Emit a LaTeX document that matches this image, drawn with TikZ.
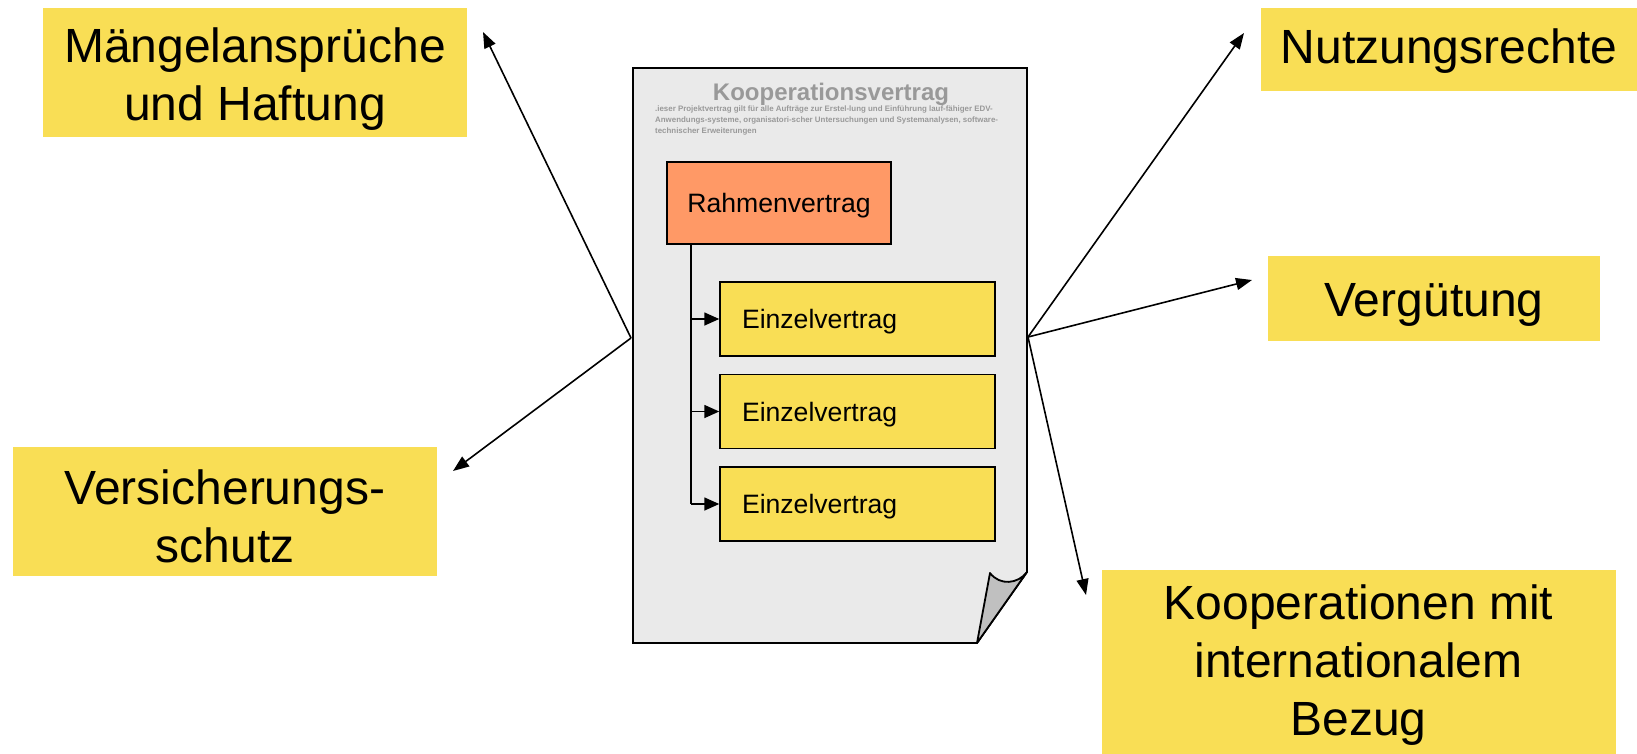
\documentclass[tikz,border=0pt]{standalone}
\usepackage{fontspec}
\setmainfont{Liberation Sans}
\usetikzlibrary{arrows.meta}

\definecolor{topicyellow}{HTML}{F9DE55}
\definecolor{frameorange}{HTML}{FF9966}
\definecolor{sheetgray}{HTML}{EAEAEA}
\definecolor{foldgray}{HTML}{C0C0C0}
\definecolor{headgray}{HTML}{999999}

\begin{document}
\begin{tikzpicture}[x=1pt,y=-1pt,
  topic/.style={fill=topicyellow, inner sep=0pt},
  topictext/.style={align=center, inner sep=0pt,
    font=\fontsize{48}{58}\selectfont},
  contract/.style={draw=black, line width=1.5pt, inner sep=0pt,
    text height=19.7pt, text depth=0pt,
    font=\fontsize{26.6}{30}\selectfont},
  single/.style={contract, fill=topicyellow, minimum height=74pt,
    text width=231pt, inner xsep=22pt, align=left},
  pointer/.style={line width=1.6pt, -{Triangle[length=16pt,width=12pt]}},
  branch/.style={line width=1.6pt, -{Triangle[length=15pt,width=13pt]}}]

\useasboundingbox (0,0) rectangle (1637,753);

% contract sheet with dog-ear
\draw[line width=1.8pt, fill=sheetgray]
  (633,68) -- (1027,68) -- (1027,572) -- (977,643) -- (633,643) -- cycle;
\draw[line width=1.8pt, fill=foldgray, line join=round]
  (977,643) -- (990,573) .. controls (1000,586) and (1018,584) .. (1027,572) -- cycle;

% sheet heading and fine print
\node[font=\bfseries\fontsize{24}{26}\selectfont, text=headgray] (title) at (831,94) {Kooperationsvertrag};
\node[anchor=north west, inner sep=0pt, align=left, text=headgray,
      font=\bfseries\fontsize{7.9}{10.8}\selectfont] (print) at (655,106)
  {.ieser Projektvertrag gilt für alle Aufträge zur Erstel-lung und Einführung lauf-fähiger EDV-\\
   Anwendungs-systeme, organisatori-scher Untersuchungen und Systemanalysen, software-\\
   technischer Erweiterungen};

% framework contract and individual contracts
\node[contract, fill=frameorange, minimum width=224pt, minimum height=82pt] (frame) at (779,203) {Rahmenvertrag};
\node[single] (e1) at (857.5,319) {Einzelvertrag};
\node[single] (e2) at (857.5,411.5) {Einzelvertrag};
\node[single] (e3) at (857.5,504) {Einzelvertrag};

\coordinate (trunk) at (691,244);
\draw[line width=1.6pt] (trunk) -- (trunk |- e3.west);
\draw[branch] (trunk |- e1.west) -- (e1.west);
\draw[branch] (trunk |- e2.west) -- (e2.west);
\draw[branch] (trunk |- e3.west) -- (e3.west);

% surrounding topics: yellow panels and their captions
\node[topic, minimum width=424pt, minimum height=129pt] (liab) at (255,72.5) {};
\node[topic, minimum width=424pt, minimum height=129pt] (insur) at (225,511.5) {};
\node[topic, minimum width=376pt, minimum height=83pt] (rights) at (1449,49.5) {};
\node[topic, minimum width=332pt, minimum height=85pt] (pay) at (1434,298.5) {};
\node[topic, minimum width=514pt, minimum height=184pt] (intl) at (1358.6,661.5) {};

\node[topictext] (liabText) at ([yshift=-7pt]liab.center) {Mängelansprüche\\und Haftung};
\node[topictext] (insurText) at ([yshift=-5pt]insur.center) {Versicherungs-\\schutz};
\node[topictext] (rightsText) at ([yshift=-2pt]rights.center) {Nutzungsrechte};
\node[topictext] (payText) at ([yshift=-6pt]pay.center) {Vergütung};
\node[topictext] (intlText) at ([yshift=-4pt]intl.center) {Kooperationen mit\\internationalem\\Bezug};

% hubs on the sheet edges and arrow tips next to the topics
\coordinate (hubL) at (631,338);
\coordinate (hubR) at (1028,337);
\coordinate (tipLiab) at (483,32);
\coordinate (tipInsur) at (453,471);
\coordinate (tipRights) at (1244,33);
\coordinate (tipPay) at (1252,280);
\coordinate (tipIntl) at (1086,595);

\draw[pointer] (hubL) -- (tipLiab);
\draw[pointer] (hubL) -- (tipInsur);
\draw[pointer] (hubR) -- (tipRights);
\draw[pointer] (hubR) -- (tipPay);
\draw[pointer] (hubR) -- (tipIntl);
\end{tikzpicture}
\end{document}
